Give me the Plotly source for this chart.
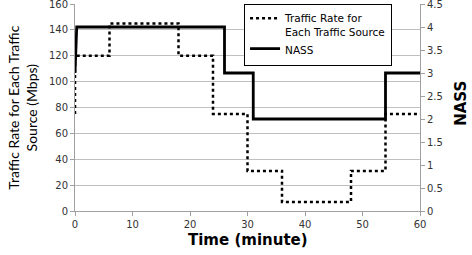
import plotly.graph_objects as go

# Traffic rate (Mbps): change times and levels (step, hv)
traffic_t = [0, 0, 6, 18, 24, 30, 36, 48, 54, 60]
traffic_v = [75, 120, 145, 120, 75, 31, 7, 31, 75, 75]

# NASS: points
nass_t = [0, 0.3, 26, 26, 31, 31, 54, 54, 60]
nass_v = [3, 4, 4, 3, 3, 2, 2, 3, 3]

left_ticks = [0, 20, 40, 60, 80, 100, 120, 140, 160]
right_ticks = [0, 0.5, 1, 1.5, 2, 2.5, 3, 3.5, 4, 4.5]
x_ticks = [0, 10, 20, 30, 40, 50, 60]

tick_font = dict(family="DejaVu Sans", size=10, color="#333333")

fig = go.Figure()
fig.add_trace(go.Scatter(
    x=traffic_t, y=traffic_v, mode="lines", line_shape="hv",
    name="Traffic Rate for<br>Each Traffic Source",
    line=dict(color="black", width=2.5, dash="dot"), yaxis="y"))
fig.add_trace(go.Scatter(
    x=nass_t, y=nass_v, mode="lines", name="NASS",
    line=dict(color="black", width=2.8), yaxis="y2"))

axis_common = dict(showline=True, linecolor="#a0a0a0", linewidth=1,
                   ticks="outside", ticklen=4, tickcolor="#a0a0a0",
                   tickfont=tick_font, zeroline=False, automargin=False,
                   ticklabeloverflow="allow")

fig.update_layout(
    width=472, height=255,
    margin=dict(l=75, r=52, t=4, b=44, autoexpand=False),
    paper_bgcolor="white", plot_bgcolor="white",
    showlegend=True,
    legend=dict(x=0.49, y=1.0, xanchor="left", yanchor="top",
                bgcolor="white", bordercolor="black", borderwidth=1,
                font=dict(family="DejaVu Sans", size=10.5, color="black"),
                valign="top", tracegroupgap=0),
    xaxis=dict(range=[0, 60], tickvals=x_ticks, showgrid=False, **axis_common),
    yaxis=dict(range=[0, 160], tickvals=left_ticks, showgrid=True,
               gridcolor="#c0c0c0", gridwidth=1, **axis_common),
    yaxis2=dict(range=[0, 4.5], tickvals=right_ticks, overlaying="y",
                side="right", showgrid=False, **axis_common),
    annotations=[
        dict(text="Traffic Rate for Each Traffic<br>Source (Mbps)",
             xref="paper", yref="paper", x=-0.153, y=0.5,
             xanchor="center", yanchor="middle", textangle=-90,
             showarrow=False,
             font=dict(family="Lato", size=14, color="black")),
        dict(text="<b>NASS</b>", xref="paper", yref="paper",
             x=1.152, y=0.52, xanchor="right", yanchor="middle",
             textangle=-90, showarrow=False,
             font=dict(family="DejaVu Sans", size=15, color="black")),
        dict(text="<b>Time (minute)</b>", xref="paper", yref="paper",
             x=0.5, y=-0.085, xanchor="center", yanchor="top",
             showarrow=False,
             font=dict(family="DejaVu Sans", size=15, color="black")),
    ],
)

fig.write_html("out.html",
               config={"displayModeBar": False},
               post_script="document.body.style.margin='0';document.body.style.padding='0';")
